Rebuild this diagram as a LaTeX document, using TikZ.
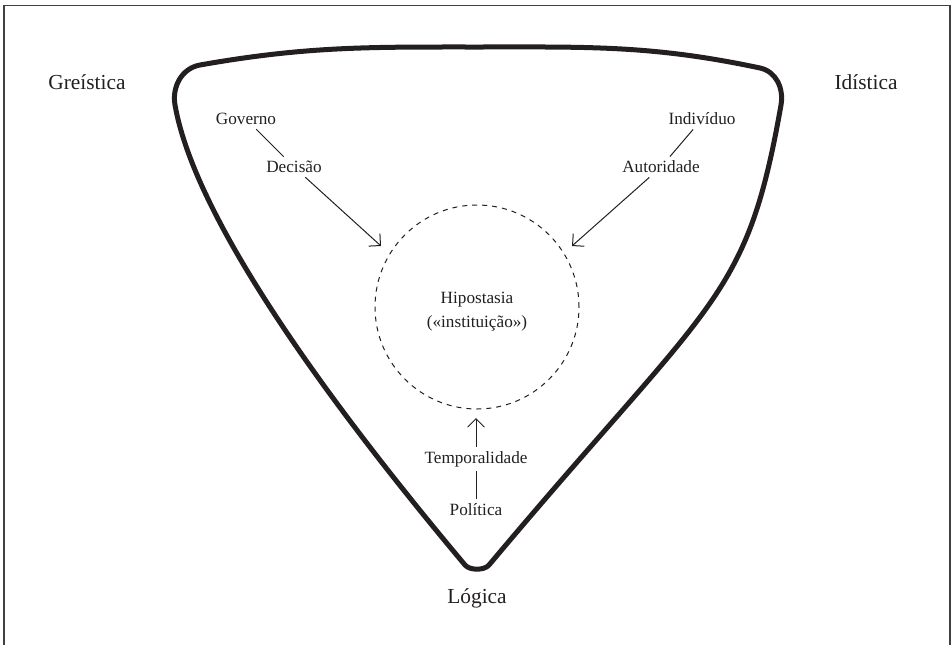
\documentclass[tikz,border=0pt]{standalone}
\usepackage{fontspec}
\setmainfont{Liberation Serif}
\usepackage{xcolor}
\usepackage{tikz}
\usetikzlibrary{positioning,arrows.meta}

\definecolor{ink}{HTML}{231F20}

\begin{document}
\begin{tikzpicture}[x=0.5pt, y=0.5pt, color=ink,
    term/.style={font=\fontsize{8.6}{12}\selectfont, inner sep=2pt},
    pole/.style={font=\fontsize{10.7}{13}\selectfont},
    link/.style={line width=0.5pt},
    pointer/.style={line width=0.5pt, -{Straight Barb[length=4.2pt, width=8.4pt]}}]
      \useasboundingbox (0, 0) rectangle (951, 645);
      \draw [black!75, line width=0.75pt] (4, 0) -- (4, 639.5) -- (950, 639.5) -- (950, 0);

      \coordinate (L1) at (175, 540);
      \coordinate (T1) at (200, 580);
      \coordinate (T2) at (477, 598);
      \coordinate (T3) at (760, 577);
      \coordinate (R1) at (781, 540);
      \coordinate (B2) at (489, 80);
      \coordinate (B1) at (465, 80);

      % rounded triangle
      \draw [line width=2.5pt, line join=round] (L1) to [out=100, in=190] (T1)
            to [out=10, in=180] (T2)
            to [out=0, in=168] (T3)
            to [out=-12, in=80] (R1)
            .. controls +(-100:200) and +(50:350) .. (B2)
            .. controls +(-130:7.3) and +(-50:7.3) .. (B1)
            .. controls +(130:200) and +(-80:120) .. (L1) -- cycle;

      \node [pole] (greis) at (87, 563) {Greística};
      \node [pole] (idis) at (866, 563) {Idística};
      \node [pole] (logi) at (477, 47) {Lógica};

      \node [circle, draw, line width=0.5pt, dash pattern=on 2.5pt off 2.5pt,
             minimum size=102pt] (hyp) at (477, 338) {};
      \node [term, align=center] (hyptext) at (477, 333) {Hipostasia\\(«instituição»)};

      \node [term] (gov) at (246, 526) {Governo};
      \node [term] (dec) at (294, 478) {Decisão};
      \node [term] (ind) at (702, 526) {Indivíduo};
      \node [term] (aut) at (661, 478) {Autoridade};
      \node [term] (temp) at (476, 186) {Temporalidade};
      \node [term, below=14pt of temp] (pol) {Política};

      \coordinate (tipL) at (381, 399);
      \coordinate (tipR) at (572, 399);
      \coordinate (tipB) at (476, 227);

      \draw [link] (gov) -- (dec);
      \draw [link] (ind) -- (aut);
      \draw [link] (temp) -- (pol);
      \draw [pointer] (dec) -- (tipL);
      \draw [pointer] (aut) -- (tipR);
      \draw [pointer] (temp) -- (tipB);
\end{tikzpicture}
\end{document}
